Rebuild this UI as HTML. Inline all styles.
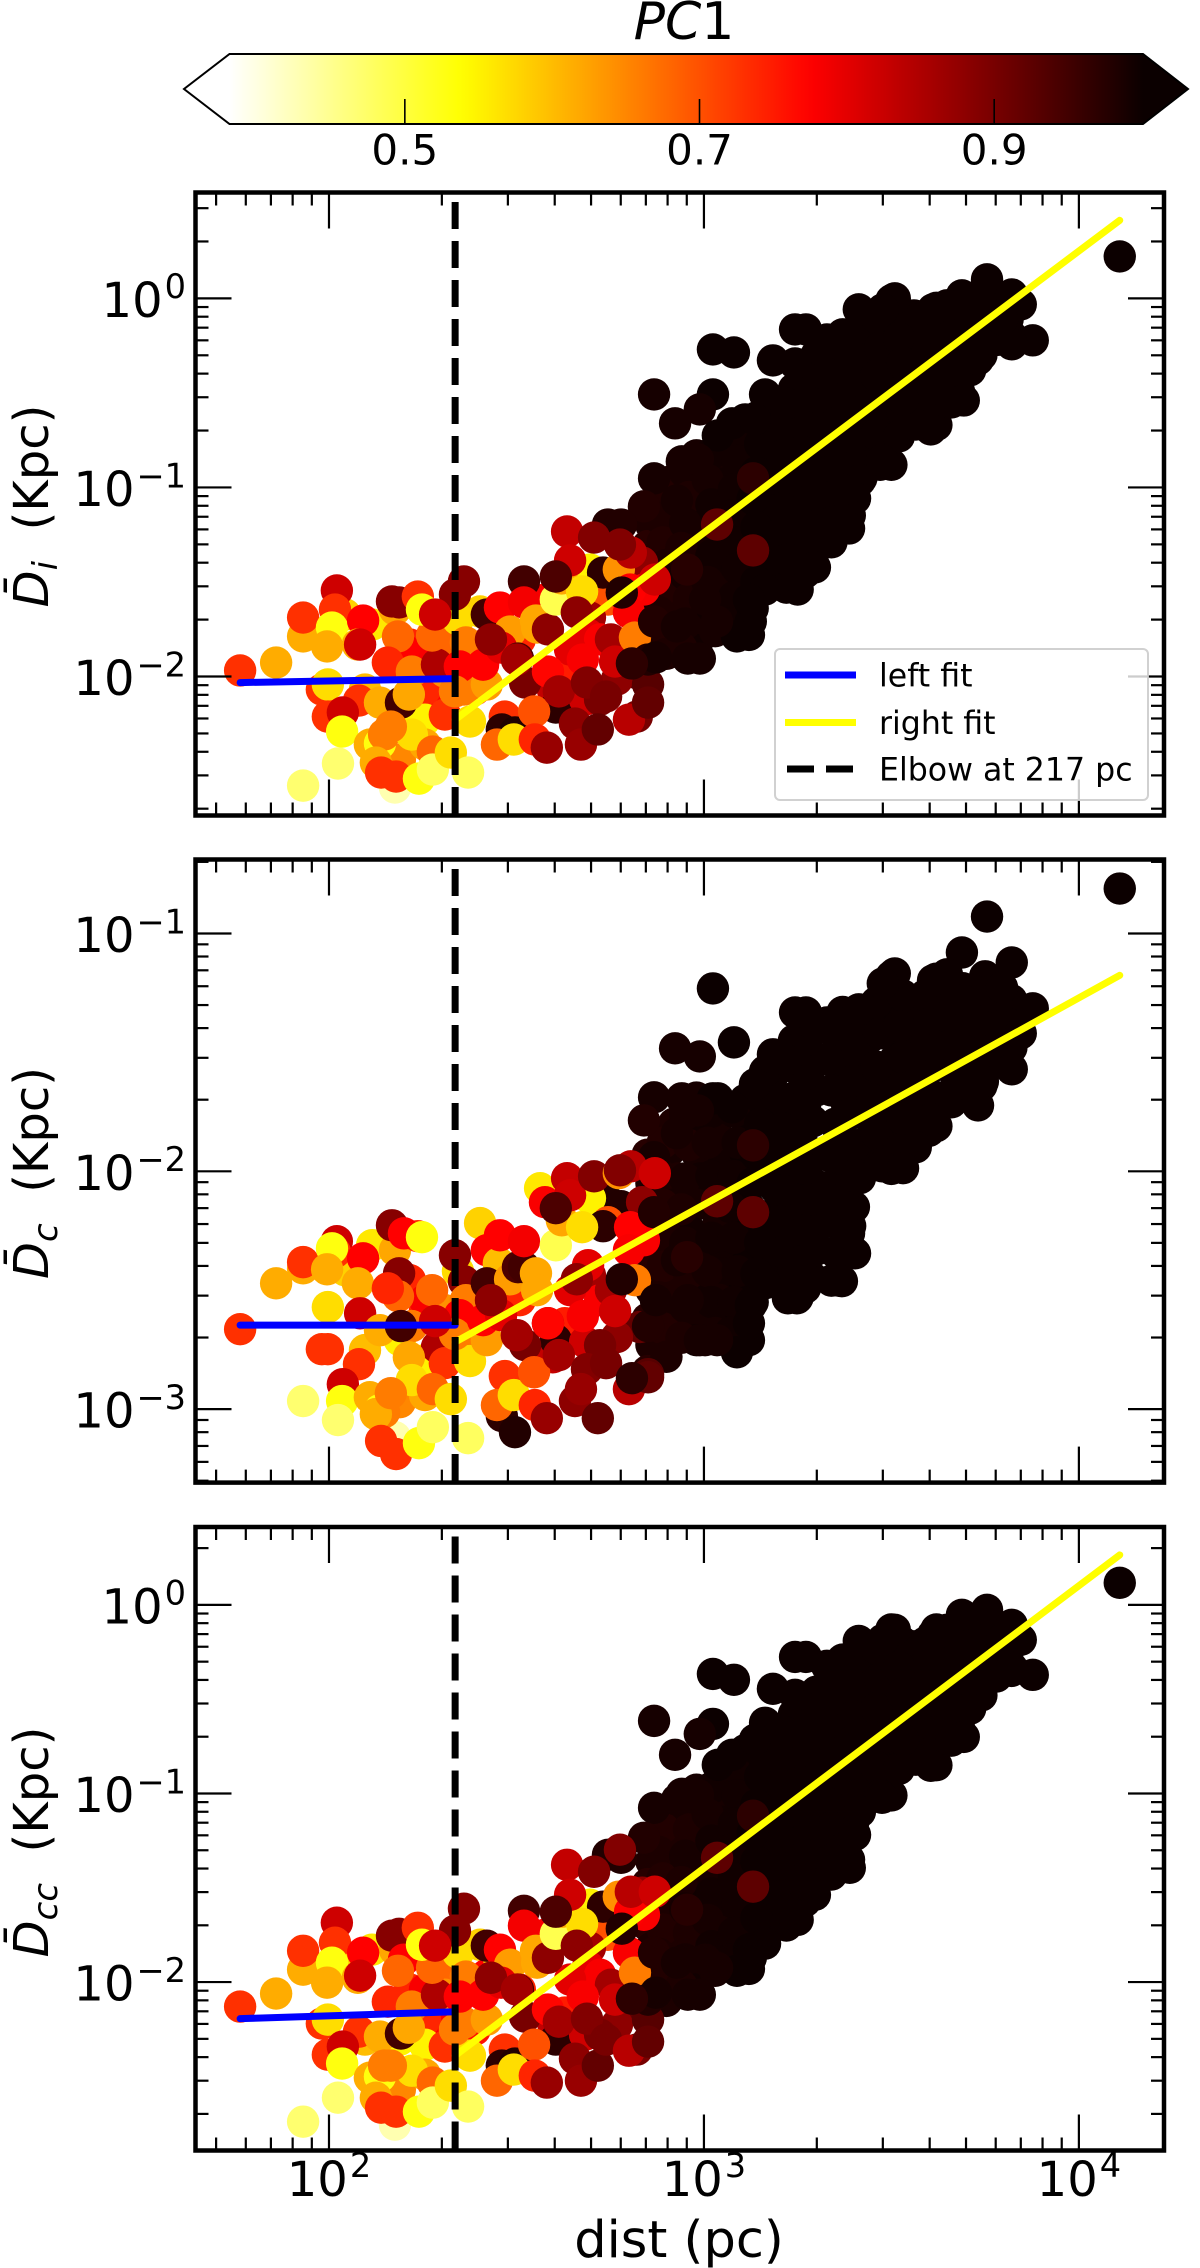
<!DOCTYPE html>
<html lang="en">
<head>
<meta charset="utf-8">
<title>Elbow fits of D versus distance</title>
<style>
html,body{margin:0;padding:0;background:#fff}
svg{display:block;font-family:"DejaVu Sans","Liberation Sans",sans-serif}
</style>
</head>
<body>
<svg id="figure" xmlns="http://www.w3.org/2000/svg" width="1200" height="2268" viewBox="0 0 1200 2268">
  <rect width="1200" height="2268" fill="#fff"/>
  <g id="colorbar">
    <defs><linearGradient id="hotGradient" x1="0" x2="1" y1="0" y2="0"></linearGradient></defs>
    <polygon points="229.5,54 229.5,124 184,89" fill="#fff"/>
    <polygon points="1143,54 1143,124 1188,89" fill="#0b0000"/>
    <rect x="229.5" y="54" width="913.5" height="70" fill="url(#hotGradient)"/>
    <polygon points="229.5,54 1143,54 1188,89 1143,124 229.5,124 184,89" fill="none" stroke="#000" stroke-width="2"/>
    <text x="684" y="39" font-size="52" text-anchor="middle"><tspan font-style="italic">PC</tspan>1</text>
    <g id="colorbarTicks"></g>
  </g>
  <g id="panels"></g>
  <text x="679" y="2257" font-size="51" text-anchor="middle">dist (pc)</text>
  <g id="legend">
    <rect x="775" y="649" width="373" height="151" rx="5" fill="#fff" fill-opacity="0.8" stroke="#ccc" stroke-opacity="0.9" stroke-width="2"/>
    <line x1="785" x2="856" y1="675" y2="675" stroke="#0000ff" stroke-width="7"/>
    <text x="879" y="686.5" font-size="31.6">left fit</text>
    <line x1="785" x2="856" y1="722.5" y2="722.5" stroke="#ffff00" stroke-width="7"/>
    <text x="879" y="734" font-size="31.6">right fit</text>
    <line x1="787" x2="854" y1="769" y2="769" stroke="#000" stroke-width="7" stroke-dasharray="27 12"/>
    <text x="879" y="780.5" font-size="31.6">Elbow at 217 pc</text>
  </g>
</svg>
<script>
// ---- Data (values are log10 of the plotted quantity) ----
const log10Dist = [
 // dense core
 2.85,2.86,2.85,2.86,2.85,2.86,2.85,2.86,2.85,
 2.92,2.91,2.93,2.92,2.91,2.93,2.92,2.91,2.93,
 2.98,2.99,2.98,2.99,2.98,2.97,2.99,2.98,2.99,2.98,
 3.05,3.04,3.05,3.06,3.04,3.05,3.05,3.04,3.06,
 3.11,3.12,3.11,3.10,3.12,3.11,3.12,3.11,3.10,3.12,
 3.18,3.17,3.18,3.17,3.19,3.17,3.18,3.17,
 3.24,3.25,3.24,3.23,3.24,3.25,3.24,3.23,3.24,3.25,
 3.30,3.31,3.30,3.29,3.31,3.30,3.31,3.30,3.29,
 3.37,3.36,3.37,3.38,3.36,3.37,3.36,3.38,3.37,3.36,
 3.43,3.44,3.42,3.43,3.44,3.43,3.42,
 3.50,3.49,3.50,3.51,3.49,3.50,3.49,3.50,
 3.56,3.55,3.57,3.56,3.55,3.56,
 3.62,3.63,3.62,3.61,3.63,3.62,
 3.69,3.68,3.69,3.70,3.68,
 3.75,3.76,3.75,3.74,
 3.82,3.81,3.82,
 // dense core, between the rows above
 2.89,2.88,2.89,2.90,2.89,2.88,2.89,2.90,
 2.95,2.96,2.95,2.94,2.95,2.96,2.95,2.94,
 3.02,3.01,3.02,3.03,3.02,3.01,3.02,3.03,
 3.08,3.09,3.08,3.07,3.08,3.09,3.08,3.07,
 3.14,3.15,3.14,3.13,3.14,3.15,3.14,3.13,
 3.21,3.20,3.21,3.22,3.21,3.20,3.21,3.22,
 3.27,3.28,3.27,3.26,3.27,3.28,3.27,3.26,3.27,
 3.34,3.33,3.34,3.35,3.34,3.33,3.34,3.35,3.34,
 3.40,3.41,3.40,3.39,3.40,3.41,3.40,3.39,
 3.46,3.47,3.46,3.45,3.46,3.47,
 3.53,3.52,3.53,3.54,3.53,3.52,
 3.59,3.60,3.59,3.58,3.59,3.60,
 3.66,3.65,3.66,3.67,3.66,
 3.72,3.73,3.72,3.71,
 3.78,3.79,3.78,
 // outline of the dark cloud
 4.109,3.755,3.688,3.821,3.845,3.877,3.821,3.731,3.744,3.795,
 3.693,3.648,3.611,3.605,3.565,3.509,3.477,3.475,3.531,3.413,
 3.416,3.403,3.389,3.387,3.368,3.341,3.296,3.248,3.224,3.163,
 3.125,3.12,3.088,3.035,3.003,2.989,2.957,3.024,3.08,2.867,
 3.024,2.989,2.923,3.243,3.272,3.328,3.184,3.243,3.163,3.219,
 3.075,3.037,2.941,2.984,2.867,2.84,2.928,2.744,2.779,3.136,
 // partly hidden points of the coloured cluster
 2.299,2.256,2.115,2.216,2.256,2.176,2.309,2.189,2.256,2.189,
 2.256,2.043,2.096,2.389,2.309,
 2.597,2.629,2.563,2.576,2.696,2.835,2.744,2.731,2.403,2.421,
 2.453,2.696,2.605,2.683,2.829,2.36,2.523,2.691,2.723,2.84,
 2.768,2.643,2.509,2.723,2.752,
 // coloured low-distance cluster
 1.763,1.859,1.931,1.931,1.931,2.021,2.016,2.008,1.995,2.091,
 2.077,2.083,1.981,1.997,1.997,2.08,2.037,2.035,2.024,2.136,
 2.176,2.109,2.136,2.147,2.125,2.139,2.179,2.168,2.187,2.237,
 2.2,2.184,2.157,2.221,2.288,2.275,2.248,2.344,2.336,2.36,
 2.365,2.349,2.192,2.213,2.221,2.165,2.309,2.277,2.24,2.277,
 2.325,2.371,2.376,2.336,2.421,2.411,2.421,2.456,2.483,2.459,
 2.432,2.504,2.469,2.461,2.496,2.448,2.493,2.547,2.549,2.581,
 2.52,2.52,2.552,2.555,2.584,2.605,2.621,2.675,2.635,2.643,
 2.707,2.605,2.661,2.677,2.584,2.613,2.688,2.656,2.672,2.717,
 2.739,2.763,2.821,2.8,2.851,2.851,2.773,2.803,2.8,2.816,
 2.805,2.776,2.869,2.781,2.851,2.872,2.808,2.867,2.928,
 // points visible on top
 3.035,3.131,3.131,2.955,2.283,2.501
];
const log10Di = [
 -1.10,-1.20,-1.31,-1.41,-1.50,-1.61,-1.70,-1.80,-1.88,
 -.96,-1.07,-1.19,-1.30,-1.41,-1.52,-1.63,-1.74,-1.85,
 -.83,-.95,-1.06,-1.17,-1.29,-1.40,-1.52,-1.63,-1.75,-1.86,
 -.75,-.87,-.98,-1.10,-1.21,-1.32,-1.44,-1.55,-1.67,
 -.64,-.77,-.89,-1.02,-1.15,-1.27,-1.40,-1.53,-1.65,-1.78,
 -.58,-.71,-.85,-.98,-1.12,-1.25,-1.39,-1.52,
 -.48,-.60,-.72,-.83,-.95,-1.07,-1.19,-1.30,-1.42,-1.54,
 -.30,-.43,-.56,-.69,-.83,-.96,-1.09,-1.23,-1.36,
 -.19,-.30,-.42,-.53,-.65,-.76,-.88,-.99,-1.11,-1.22,
 -.15,-.28,-.42,-.55,-.68,-.81,-.95,
 -.01,-.13,-.26,-.38,-.50,-.63,-.75,-.88,
 -.09,-.20,-.31,-.42,-.53,-.64,
 -.05,-.17,-.30,-.42,-.55,-.67,
 -.04,-.16,-.27,-.38,-.49,
 .05,-.07,-.19,-.30,
 -.03,-.11,-.20,
 -1.04,-1.16,-1.29,-1.41,-1.54,-1.66,-1.78,-1.88,
 -.92,-1.05,-1.19,-1.32,-1.46,-1.59,-1.72,-1.85,
 -.82,-.96,-1.09,-1.23,-1.36,-1.50,-1.63,-1.76,
 -.72,-.86,-1.01,-1.15,-1.29,-1.43,-1.58,-1.72,
 -.63,-.77,-.92,-1.06,-1.21,-1.35,-1.50,-1.64,
 -.55,-.69,-.83,-.97,-1.11,-1.25,-1.39,-1.53,
 -.42,-.55,-.68,-.81,-.94,-1.07,-1.20,-1.33,-1.45,
 -.27,-.40,-.53,-.66,-.79,-.92,-1.05,-1.18,-1.29,
 -.19,-.32,-.46,-.60,-.74,-.88,-1.01,-1.08,
 -.10,-.26,-.41,-.57,-.72,-.88,
 -.08,-.21,-.34,-.47,-.60,-.73,
 -.10,-.21,-.32,-.42,-.53,-.64,
 -.07,-.19,-.31,-.43,-.55,
 -.01,-.14,-.27,-.38,
 -.02,-.12,-.22,
 .222,.101,.016,.021,-.032,-.222,-.243,-.323,-.217,-.111,
 -.54,-.037,-.058,-.693,-.667,0,-.058,-.857,-.534,-.058,
 -.963,-1.058,-1.148,-1.217,-1.011,-1.185,-1.423,-1.471,-1.381,-1.54,
 -1.709,-1.593,-1.788,-1.709,-1.593,-1.905,-1.905,-.27,-.286,-.508,
 -.508,-.587,-.661,-.164,-.164,-.217,-.328,-.344,-.508,-.556,
 -.661,-.725,-.862,-.852,-.952,-1.1,-1.069,-1.196,-1.196,-.64,
 -2.085,-2.069,-1.725,-1.831,-1.884,-1.646,-1.804,-2.228,-2.228,-2.439,
 -2.36,-1.672,-2.069,-2.069,-1.974,
 -2.069,-2.016,-1.619,-1.593,-1.434,-1.397,-1.593,-1.45,-1.656,-1.825,
 -1.751,-1.688,-2.164,-2.122,-1.989,-2.069,-2.032,-1.778,-1.804,-1.54,
 -2.016,-1.857,-1.804,-2.122,-1.804,
 -1.968,-1.926,-1.788,-1.688,-2.577,-1.545,-1.646,-1.741,-1.841,-1.704,
 -1.831,-1.831,-2.069,-2.042,-2.212,-2.127,-2.19,-2.291,-2.46,-2.138,
 -2.587,-2.36,-2.354,-2.307,-2.455,-2.508,-2.529,-1.603,-1.608,-1.577,
 -1.857,-1.788,-1.926,-1.974,-1.937,-1.783,-1.646,-1.698,-1.566,-1.497,
 -1.82,-1.947,-2.138,-2.095,-2.307,-2.265,-2.201,-2.397,-2.54,-2.492,
 -2.402,-2.508,-2.238,-2.079,-2.042,-1.937,-1.672,-1.635,-1.762,-1.847,
 -1.804,-1.905,-2.212,-2.28,-2.296,-2.36,-2.333,-2.185,-2.333,-2.376,
 -1.497,-1.608,-1.704,-1.741,-1.751,-1.593,-1.481,-1.55,-1.233,-1.386,
 -1.265,-1.471,-1.661,-1.91,-1.974,-2.079,-2.032,-2.249,-2.36,-2.28,
 -2.106,-1.921,-2.212,-2.228,-2.042,-2.138,-1.434,-1.54,-1.661,-1.794,
 -1.344,-1.302,-1.487,-1.556,-1.91,-1.899,-1.931,-1.709,-1.735,
 -1.196,-1.333,-.952,-1.434,-1.672,-1.91
];
const log10Dc = [
 -1.93,-2.05,-2.16,-2.28,-2.40,-2.50,-2.62,-2.73,-2.84,
 -1.80,-1.91,-2.03,-2.14,-2.25,-2.36,-2.47,-2.58,-2.69,
 -1.69,-1.80,-1.92,-2.03,-2.14,-2.26,-2.37,-2.48,-2.60,-2.71,
 -1.75,-1.86,-1.98,-2.09,-2.20,-2.31,-2.43,-2.54,-2.65,
 -1.70,-1.81,-1.92,-2.04,-2.15,-2.26,-2.37,-2.49,-2.60,-2.71,
 -1.61,-1.73,-1.84,-1.96,-2.07,-2.19,-2.30,-2.42,
 -1.45,-1.57,-1.69,-1.81,-1.93,-2.05,-2.17,-2.29,-2.41,-2.53,
 -1.40,-1.53,-1.66,-1.79,-1.93,-2.06,-2.19,-2.32,-2.45,
 -1.33,-1.46,-1.58,-1.71,-1.83,-1.96,-2.08,-2.21,-2.33,-2.46,
 -1.33,-1.44,-1.55,-1.66,-1.77,-1.88,-1.99,
 -1.18,-1.30,-1.41,-1.53,-1.64,-1.76,-1.87,-1.99,
 -1.28,-1.40,-1.52,-1.64,-1.76,-1.88,
 -1.19,-1.31,-1.44,-1.56,-1.69,-1.81,
 -1.23,-1.34,-1.45,-1.56,-1.67,
 -1.18,-1.33,-1.49,-1.64,
 -1.28,-1.38,-1.48,
 -1.88,-2.01,-2.14,-2.27,-2.40,-2.53,-2.66,-2.78,
 -1.76,-1.89,-2.03,-2.16,-2.30,-2.43,-2.57,-2.70,
 -1.75,-1.88,-2.02,-2.15,-2.28,-2.42,-2.55,-2.68,
 -1.75,-1.88,-2.02,-2.15,-2.28,-2.42,-2.55,-2.68,
 -1.68,-1.80,-1.93,-2.05,-2.18,-2.30,-2.43,-2.55,
 -1.56,-1.69,-1.82,-1.95,-2.08,-2.21,-2.34,-2.47,
 -1.45,-1.58,-1.72,-1.85,-1.99,-2.12,-2.25,-2.38,-2.49,
 -1.39,-1.53,-1.66,-1.80,-1.94,-2.07,-2.21,-2.34,-2.46,
 -1.36,-1.49,-1.62,-1.76,-1.89,-2.02,-2.15,-2.23,
 -1.29,-1.42,-1.56,-1.70,-1.84,-1.97,
 -1.26,-1.39,-1.52,-1.65,-1.78,-1.91,
 -1.26,-1.38,-1.49,-1.60,-1.72,-1.83,
 -1.24,-1.35,-1.47,-1.59,-1.71,
 -1.24,-1.37,-1.51,-1.64,
 -1.27,-1.39,-1.52,
 -.811,-.929,-1.08,-1.122,-1.42,-1.315,-1.571,-1.723,-1.622,-1.227,
 -1.282,-1.172,-1.197,-1.782,-1.899,-1.168,-1.21,-1.979,-1.987,-1.319,
 -2.029,-2.345,-2.164,-2.261,-2.462,-2.122,-2.332,-2.534,-2.534,-2.471,
 -2.563,-2.639,-2.761,-2.71,-2.71,-2.71,-2.542,-1.231,-1.458,-1.689,
 -1.693,-1.517,-1.483,-1.332,-1.332,-1.374,-1.508,-1.492,-1.58,-1.534,
 -1.731,-1.693,-1.693,-1.744,-1.941,-1.786,-1.84,-2.126,-2.147,-1.634,
 -2.731,-2.584,-2.311,-2.458,-2.542,-2.332,-2.626,-2.71,-2.794,-2.971,
 -2.941,-2.416,-2.752,-2.647,-2.584,
 -2.782,-2.639,-2.071,-2.13,-2.113,-2.13,-2.214,-2.231,-2.218,-2.332,
 -2.387,-2.437,-2.71,-2.718,-2.655,-2.676,-2.731,-2.395,-2.542,-2.29,
 -2.697,-2.5,-2.542,-2.731,-2.5,
 -2.664,-2.471,-2.408,-2.382,-2.966,-2.294,-2.34,-2.324,-2.412,-2.366,
 -2.471,-2.597,-2.748,-2.571,-2.748,-2.811,-2.895,-2.966,-3.046,-2.668,
 -3.118,-2.95,-3.004,-3.013,-3.021,-3.134,-3.189,-2.227,-2.429,-2.273,
 -2.261,-2.525,-2.492,-2.651,-2.739,-2.5,-2.277,-2.42,-2.353,-2.462,
 -2.542,-2.605,-2.651,-2.782,-2.878,-2.933,-2.807,-2.916,-3.143,-3.076,
 -2.958,-3.122,-2.798,-2.685,-2.71,-2.626,-2.471,-2.269,-2.454,-2.605,
 -2.542,-2.403,-2.861,-3.029,-3.097,-2.983,-2.941,-2.845,-2.983,-3.038,
 -2.403,-2.294,-2.429,-2.5,-2.639,-2.311,-2.206,-2.235,-2.029,-2.101,
 -2.021,-2.155,-2.454,-2.609,-2.639,-2.773,-2.832,-2.966,-2.916,-3.038,
 -2.807,-2.588,-2.874,-2.916,-2.853,-2.866,-2.008,-2.235,-2.332,-2.458,
 -1.979,-1.996,-2.008,-2.454,-2.651,-2.542,-2.87,-2.172,-2.374,
 -2.126,-2.172,-1.891,-2.361,-2.63,-2.689
];
const log10Dcc = [
 -1.24,-1.36,-1.48,-1.59,-1.70,-1.82,-1.93,-2.05,-2.17,
 -1.09,-1.21,-1.32,-1.44,-1.55,-1.67,-1.78,-1.90,-2.01,
 -.98,-1.10,-1.22,-1.33,-1.45,-1.57,-1.69,-1.81,-1.92,-2.04,
 -.91,-1.03,-1.15,-1.26,-1.38,-1.50,-1.62,-1.73,-1.85,
 -.77,-.90,-1.03,-1.16,-1.29,-1.41,-1.54,-1.67,-1.80,-1.93,
 -.71,-.86,-1.00,-1.15,-1.29,-1.44,-1.58,-1.73,
 -.58,-.70,-.82,-.94,-1.06,-1.19,-1.31,-1.43,-1.55,-1.67,
 -.46,-.59,-.71,-.84,-.97,-1.10,-1.22,-1.35,-1.48,
 -.29,-.41,-.53,-.66,-.78,-.90,-1.02,-1.15,-1.27,-1.39,
 -.27,-.40,-.52,-.65,-.78,-.90,-1.03,
 -.13,-.26,-.38,-.51,-.63,-.76,-.88,-1.01,
 -.22,-.33,-.44,-.55,-.66,-.77,
 -.13,-.27,-.42,-.56,-.71,-.85,
 -.19,-.30,-.42,-.53,-.65,
 -.04,-.19,-.33,-.48,
 -.15,-.25,-.35,
 -1.18,-1.31,-1.45,-1.58,-1.72,-1.85,-1.98,-2.10,
 -1.06,-1.19,-1.33,-1.47,-1.61,-1.74,-1.88,-2.02,
 -.97,-1.11,-1.25,-1.39,-1.53,-1.67,-1.81,-1.94,
 -.87,-1.01,-1.16,-1.30,-1.45,-1.59,-1.74,-1.88,
 -.76,-.91,-1.06,-1.21,-1.36,-1.51,-1.66,-1.82,
 -.67,-.81,-.96,-1.10,-1.25,-1.39,-1.54,-1.70,
 -.55,-.68,-.81,-.94,-1.07,-1.20,-1.33,-1.46,-1.57,
 -.40,-.53,-.66,-.79,-.92,-1.05,-1.18,-1.31,-1.43,
 -.31,-.44,-.59,-.73,-.87,-1.01,-1.14,-1.21,
 -.23,-.39,-.55,-.70,-.86,-1.01,
 -.20,-.33,-.47,-.60,-.74,-.87,
 -.20,-.32,-.43,-.55,-.67,-.79,
 -.19,-.31,-.44,-.57,-.72,
 -.14,-.27,-.41,-.55,
 -.13,-.25,-.38,
 .117,-.026,-.053,-.106,-.185,-.371,-.334,-.477,-.397,-.185,
 -.7,-.132,-.159,-.853,-.821,-.132,-.185,-1.023,-.715,-.191,
 -1.097,-1.219,-1.394,-1.351,-1.298,-1.351,-1.537,-1.648,-1.616,-1.796,
 -1.871,-1.828,-1.94,-1.924,-1.881,-2.067,-2.067,-.366,-.397,-.615,
 -.631,-.684,-.795,-.276,-.276,-.323,-.445,-.477,-.625,-.678,
 -.795,-.848,-1.002,-1.007,-1.076,-1.235,-1.033,-1.325,-1.341,-.715,
 -2.252,-2.199,-1.828,-2.04,-2.04,-1.828,-1.961,-2.305,-2.332,-2.57,
 -2.491,-1.881,-2.305,-2.252,-2.067,
 -2.215,-2.162,-1.802,-1.749,-1.59,-1.526,-1.749,-1.6,-1.802,-1.961,
 -1.871,-1.818,-2.305,-2.279,-2.146,-2.215,-2.183,-1.918,-1.961,-1.643,
 -2.226,-1.987,-2.04,-2.279,-2.014,
 -2.13,-2.061,-1.934,-1.834,-2.74,-1.685,-1.791,-1.897,-2.003,-1.844,
 -1.977,-1.966,-2.22,-2.199,-2.385,-2.263,-2.342,-2.432,-2.613,-2.289,
 -2.756,-2.507,-2.501,-2.443,-2.613,-2.666,-2.687,-1.754,-1.744,-1.712,
 -1.881,-1.94,-2.104,-2.13,-2.067,-1.924,-1.802,-1.844,-1.728,-1.611,
 -1.971,-2.077,-2.273,-2.242,-2.47,-2.443,-2.342,-2.533,-2.687,-2.639,
 -2.549,-2.66,-2.39,-2.252,-2.199,-2.067,-1.807,-1.828,-1.908,-2.003,
 -1.977,-2.04,-2.358,-2.443,-2.432,-2.523,-2.464,-2.332,-2.496,-2.533,
 -1.622,-1.701,-1.834,-1.897,-1.871,-1.744,-1.627,-1.691,-1.378,-1.537,
 -1.415,-1.627,-1.807,-2.077,-2.146,-2.21,-2.194,-2.406,-2.523,-2.443,
 -2.305,-2.093,-2.358,-2.364,-2.199,-2.316,-1.547,-1.627,-1.844,-1.95,
 -1.521,-1.298,-1.521,-1.717,-2.093,-2.056,-2.088,-1.844,-1.897,
 -1.341,-1.494,-1.118,-1.616,-1.807,-2.04
];
const pc1Values = [
 .975,.985,.975,.985,.975,.985,.975,.985,.975,
 .985,.99,.985,.99,.985,.99,.985,.99,.985,
 .99,.995,.99,.995,.99,.995,.99,.995,.99,.995,
 .995,.99,.995,.995,.99,.995,.995,.99,.995,
 1,1,1,1,1,1,1,1,1,1,
 1,1,1,1,1,1,1,1,
 1,1,1,1,1,1,1,1,1,1,
 1,1,1,1,1,1,1,1,1,
 1,1,1,1,1,1,1,1,1,1,
 1,1,1,1,1,1,1,
 1,1,1,1,1,1,1,1,
 1,1,1,1,1,1,
 1,1,1,1,1,1,
 1,1,1,1,1,
 1,1,1,1,
 1,1,1,
 .98,.985,.98,.985,.98,.985,.98,.985,
 .99,.985,.99,.985,.99,.985,.99,.985,
 .995,.99,.995,.99,.995,.99,.995,.99,
 .995,.995,.995,.995,.995,.995,.995,.995,
 1,1,1,1,1,1,1,1,
 1,1,1,1,1,1,1,1,
 1,1,1,1,1,1,1,1,1,
 1,1,1,1,1,1,1,1,1,
 1,1,1,1,1,1,1,1,
 1,1,1,1,1,1,
 1,1,1,1,1,1,
 1,1,1,1,1,1,
 1,1,1,1,1,
 1,1,1,1,
 1,1,1,
 1,1,1,1,1,1,1,1,1,1,
 1,1,1,1,1,1,1,1,1,1,
 1,1,1,1,1,1,1,1,1,1,
 1,1,1,.99,.99,.99,.99,1,1,.99,
 1,.99,.99,1,1,1,1,1,1,1,
 1,1,.99,.99,.99,.98,.99,.98,.98,1,
 .775,.74,.56,.74,.78,.62,.68,.55,.55,.65,
 .62,.58,.6,.76,.64,
 .83,.75,.56,.78,.55,.88,.7,.97,.58,.775,
 .6,.86,.97,.82,.92,.66,.9,.8,.78,.78,
 .88,.8,.74,.9,.86,
 .73,.615,.615,.73,.47,.82,.73,.53,.615,.775,
 .615,.82,.73,.57,.73,.73,.82,.53,.47,.615,
 .43,.615,.53,.66,.615,.73,.73,.886,.886,.73,
 .775,.68,.74,.66,.85,.68,.53,.57,.886,.886,
 .66,.775,.95,.62,.57,.66,.73,.68,.53,.48,
 .57,.48,.57,.66,.63,.775,.95,.775,.63,.8,
 .88,.94,.73,.97,.98,.68,.57,.7,.74,.87,
 .95,.785,.62,.62,.88,.49,.62,.57,.83,.82,
 .89,.94,.88,.78,.77,.86,.89,.88,.87,.92,
 .9,.82,.9,.84,.93,.92,.64,.775,.78,.66,
 .84,.89,.82,.98,.98,.99,.97,.98,.99,
 .925,.925,.97,.975,.82,.86
];
const elbowDistPc = 217;
const fitStartLog10Dist = 1.763;
const fitEndLog10Dist = 4.109;
const leftFitDi = [-2.032,-2.011];
const rightFitDi = [-2.228,0.413];
const leftFitDc = [-2.647,-2.647];
const rightFitDc = [-2.718,-1.176];
const leftFitDcc = [-2.194,-2.157];
const rightFitDcc = [-2.39,0.265];
const xMajorExponents = [2,3,4];
const yMajorDi = [0,-1,-2];
const yMajorDc = [-1,-2,-3];
const yMajorDcc = [0,-1,-2];
const colorbarTickValues = [0.5,0.7,0.9];
const colorbarTickLabels = ["0.5","0.7","0.9"];

// ---- Axis layout ----
const NS = "http://www.w3.org/2000/svg";
const PC_MIN = 0.381, PC_MAX = 1.001;
const X_LEFT = 195.5, X_RIGHT = 1164;
const X_LOG_MIN = 1.644, X_LOG_MAX = 4.227;
const panels = [
  {key:"di",  sub:"i",  top:192.5, bottom:815.5,  logMin:-2.735, logMax:0.56,   values:log10Di,  left:leftFitDi,  right:rightFitDi,  major:yMajorDi,  labelY:506,  showX:false},
  {key:"dc",  sub:"c",  top:859.5, bottom:1482.6, logMin:-3.309, logMax:-0.689, values:log10Dc,  left:leftFitDc,  right:rightFitDc,  major:yMajorDc,  labelY:1173, showX:false},
  {key:"dcc", sub:"cc", top:1527,  bottom:2150.5, logMin:-2.893, logMax:0.413,  values:log10Dcc, left:leftFitDcc, right:rightFitDcc, major:yMajorDcc, labelY:1842, showX:true}
];
function xScale(v){ return X_LEFT + (v - X_LOG_MIN) / (X_LOG_MAX - X_LOG_MIN) * (X_RIGHT - X_LEFT); }
function yScale(p, v){ return p.bottom - (v - p.logMin) / (p.logMax - p.logMin) * (p.bottom - p.top); }
function clamp01(v){ return Math.max(0, Math.min(1, v)); }
function hotR(v){
  const h = 1 - clamp01((v - PC_MIN) / (PC_MAX - PC_MIN));
  const r = Math.min(1, 0.0416 + h / 0.365079 * 0.9584);
  const g = clamp01((h - 0.365079) / 0.380953);
  const b = clamp01((h - 0.746032) / 0.253968);
  return "rgb(" + Math.round(r*255) + "," + Math.round(g*255) + "," + Math.round(b*255) + ")";
}
function make(tag, attrs, parent){
  const node = document.createElementNS(NS, tag);
  for (const k in attrs) node.setAttribute(k, attrs[k]);
  parent.appendChild(node);
  return node;
}

// ---- Colorbar ----
const gradient = document.getElementById("hotGradient");
for (let i = 0; i <= 64; i++) {
  const stop = make("stop", {offset: (i/64*100) + "%", "stop-color": hotR(PC_MIN + (PC_MAX-PC_MIN)*i/64)}, gradient);
  
  
}
const cbGroup = document.getElementById("colorbarTicks");
colorbarTickValues.forEach(function(v, i){
  const cx = 229.5 + (v - PC_MIN) / (PC_MAX - PC_MIN) * 913.5;
  const tick = make("line", {x1:cx, x2:cx, y1:99, y2:124, stroke:"#000", "stroke-width":1.6}, cbGroup);
  
  
  const label = make("text", {x:cx, y:164.5, "font-size":42, "text-anchor":"middle"}, cbGroup);
  
  
  label.textContent = colorbarTickLabels[i];
});

// ---- Panels ----
const panelsRoot = document.getElementById("panels");
function drawTick(group, x1, y1, x2, y2){
  const t = make("line", {x1:x1, y1:y1, x2:x2, y2:y2, stroke:"#000", "stroke-width":2.2}, group);
  
  
}
function powerLabel(parent, x, y, exponent, anchor, shift){
  const t = make("text", {x:x, y:y, "font-size":48, "text-anchor":anchor}, parent);
  
  
  t.appendChild(document.createTextNode("10"));
  const s = make("tspan", {dx:2, dy:shift, "font-size":33.6}, t);
  
  
  s.textContent = (exponent < 0 ? "\u2212" : "") + Math.abs(exponent);
}
panels.forEach(function(p){
  const g = make("g", {}, panelsRoot);
  
  

  const points = make("g", {}, g);
  
  
  log10Dist.forEach(function(d, i){
    const c = make("circle", {cx:xScale(d), cy:yScale(p, p.values[i]), r:16.2, fill:hotR(pc1Values[i])}, points);
    
    
  });

  const elbowLog = Math.log10(elbowDistPc);
  const blue = make("line", {x1:xScale(fitStartLog10Dist), y1:yScale(p,p.left[0]), x2:xScale(elbowLog), y2:yScale(p,p.left[1]), stroke:"#0000ff", "stroke-width":7, "stroke-linecap":"round"}, g);
  
  
  const yellow = make("line", {x1:xScale(elbowLog), y1:yScale(p,p.right[0]), x2:xScale(fitEndLog10Dist), y2:yScale(p,p.right[1]), stroke:"#ffff00", "stroke-width":7, "stroke-linecap":"round"}, g);
  
  
  const elbow = make("line", {x1:xScale(elbowLog), x2:xScale(elbowLog), y1:p.top+9.5, y2:p.bottom, stroke:"#000", "stroke-width":7, "stroke-dasharray":"27 12"}, g);
  
  

  const ticks = make("g", {}, g);
  
  
  // x ticks, top and bottom
  for (let e = 1; e <= 4; e++) {
    for (let m = 1; m <= 9; m++) {
      const lv = e + Math.log10(m);
      if (lv < X_LOG_MIN || lv > X_LOG_MAX) continue;
      const len = (m === 1 && xMajorExponents.indexOf(e) >= 0) ? 36 : 13;
      const px = xScale(lv);
      drawTick(ticks, px, p.top, px, p.top + len);
      drawTick(ticks, px, p.bottom, px, p.bottom - len);
    }
  }
  // y ticks, left and right
  for (let e = -4; e <= 1; e++) {
    for (let m = 1; m <= 9; m++) {
      const lv = e + Math.log10(m);
      if (lv < p.logMin || lv > p.logMax) continue;
      const len = (m === 1 && p.major.indexOf(e) >= 0) ? 36 : 13;
      const py = yScale(p, lv);
      drawTick(ticks, X_LEFT, py, X_LEFT + len, py);
      drawTick(ticks, X_RIGHT, py, X_RIGHT - len, py);
    }
  }
  p.major.forEach(function(e){
    powerLabel(g, 186, yScale(p, e) + 18.5, e, "end", -18.7);
  });
  if (p.showX) {
    xMajorExponents.forEach(function(e){
      powerLabel(g, xScale(e), p.bottom + 45.5, e, "middle", -19);
    });
  }
  const frame = make("rect", {x:X_LEFT, y:p.top, width:X_RIGHT-X_LEFT, height:p.bottom-p.top, fill:"none", stroke:"#000", "stroke-width":4.5}, g);
  
  

  const yTitle = make("text", {transform:"translate(48," + p.labelY + ") rotate(-90)", "font-size":48, "text-anchor":"middle"}, g);
  
  
  const dPart = make("tspan", {"font-style":"italic"}, yTitle);
  
  
  dPart.textContent = "D\u0304";
  const subPart = make("tspan", {"font-style":"italic", "font-size":34, dy:9}, yTitle);
  
  
  subPart.textContent = p.sub;
  const unitPart = make("tspan", {dy:-9}, yTitle);
  
  
  unitPart.textContent = "\u00a0 (Kpc)";
});
// keep legend above the panels
const figure = document.getElementById("figure");
figure.appendChild(document.getElementById("legend"));
</script>
</body>
</html>
